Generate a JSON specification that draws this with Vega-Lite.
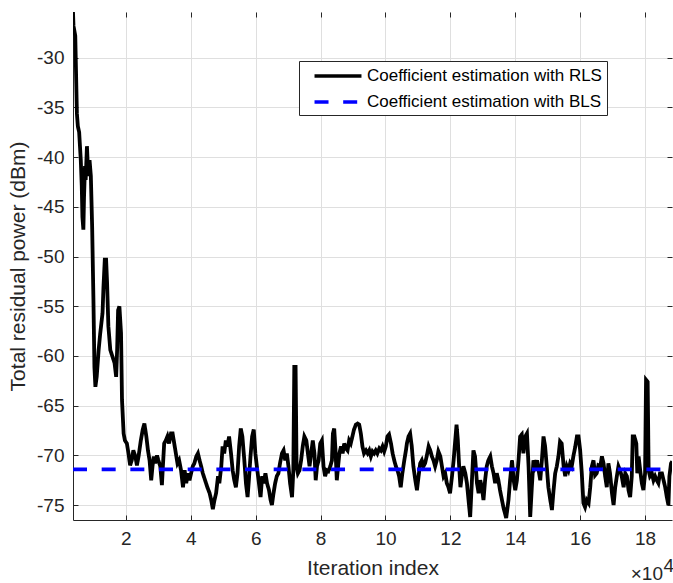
{
  "$schema": "https://vega.github.io/schema/vega-lite/v6.json",
  "width": 599,
  "height": 508,
  "autosize": {"type": "none"},
  "padding": {"left": 73, "top": 12, "right": 1, "bottom": 63},
  "background": "white",
  "config": {
    "font": "Liberation Sans",
    "view": {"stroke": null},
    "axis": {
      "labelFont": "Liberation Sans",
      "titleFont": "Liberation Sans",
      "labelFontSize": 19,
      "titleFontSize": 21,
      "titleFontWeight": "normal",
      "labelColor": "#262626",
      "titleColor": "#262626",
      "tickColor": "#262626",
      "domainColor": "#262626",
      "gridColor": "#dfdfdf",
      "gridWidth": 1,
      "tickWidth": 1,
      "domainWidth": 1
    }
  },
  "title": {
    "text": "×10",
    "orient": "bottom",
    "anchor": "end",
    "frame": "group",
    "font": "Liberation Sans",
    "fontSize": 19,
    "fontWeight": "normal",
    "color": "#262626",
    "offset": -13,
    "dx": -9
  },
  "data": {
    "values": [
      {"s":"RLS","x":0.37,"y":-25.4},{"s":"RLS","x":0.385,"y":-26.8},{"s":"RLS","x":0.44,"y":-27.8},{"s":"RLS","x":0.49,"y":-35.6},{"s":"RLS","x":0.52,"y":-36.9},{"s":"RLS","x":0.56,"y":-37.5},{"s":"RLS","x":0.61,"y":-40.3},{"s":"RLS","x":0.64,"y":-42.9},{"s":"RLS","x":0.66,"y":-46.0},{"s":"RLS","x":0.69,"y":-47.3},{"s":"RLS","x":0.71,"y":-44.0},{"s":"RLS","x":0.74,"y":-40.9},{"s":"RLS","x":0.76,"y":-42.3},{"s":"RLS","x":0.8,"y":-38.9},{"s":"RLS","x":0.84,"y":-41.9},{"s":"RLS","x":0.88,"y":-40.3},{"s":"RLS","x":0.92,"y":-41.9},{"s":"RLS","x":0.96,"y":-47.0},{"s":"RLS","x":1.0,"y":-54.4},{"s":"RLS","x":1.03,"y":-61.1},{"s":"RLS","x":1.06,"y":-63.1},{"s":"RLS","x":1.1,"y":-62.1},{"s":"RLS","x":1.16,"y":-59.4},{"s":"RLS","x":1.21,"y":-57.7},{"s":"RLS","x":1.28,"y":-55.7},{"s":"RLS","x":1.31,"y":-53.0},{"s":"RLS","x":1.35,"y":-50.3},{"s":"RLS","x":1.39,"y":-50.3},{"s":"RLS","x":1.42,"y":-52.6},{"s":"RLS","x":1.46,"y":-57.0},{"s":"RLS","x":1.52,"y":-59.4},{"s":"RLS","x":1.59,"y":-60.1},{"s":"RLS","x":1.65,"y":-60.7},{"s":"RLS","x":1.7,"y":-62.1},{"s":"RLS","x":1.73,"y":-59.4},{"s":"RLS","x":1.76,"y":-55.4},{"s":"RLS","x":1.8,"y":-55.0},{"s":"RLS","x":1.85,"y":-57.7},{"s":"RLS","x":1.88,"y":-64.4},{"s":"RLS","x":1.93,"y":-67.8},{"s":"RLS","x":1.97,"y":-68.5},
      {"s":"RLS","x":2.03,"y":-68.8},{"s":"RLS","x":2.08,"y":-69.8},{"s":"RLS","x":2.13,"y":-71.0},{"s":"RLS","x":2.18,"y":-70.5},{"s":"RLS","x":2.23,"y":-69.5},{"s":"RLS","x":2.29,"y":-70.1},{"s":"RLS","x":2.34,"y":-71.0},{"s":"RLS","x":2.39,"y":-70.1},{"s":"RLS","x":2.46,"y":-68.5},{"s":"RLS","x":2.52,"y":-67.4},{"s":"RLS","x":2.57,"y":-66.8},{"s":"RLS","x":2.63,"y":-68.1},{"s":"RLS","x":2.68,"y":-69.5},{"s":"RLS","x":2.73,"y":-70.5},{"s":"RLS","x":2.78,"y":-72.5},{"s":"RLS","x":2.82,"y":-71.1},{"s":"RLS","x":2.86,"y":-70.1},{"s":"RLS","x":2.9,"y":-70.8},{"s":"RLS","x":2.96,"y":-70.0},{"s":"RLS","x":3.0,"y":-70.5},{"s":"RLS","x":3.06,"y":-71.1},{"s":"RLS","x":3.11,"y":-73.0},{"s":"RLS","x":3.14,"y":-71.1},{"s":"RLS","x":3.18,"y":-68.8},{"s":"RLS","x":3.23,"y":-68.5},{"s":"RLS","x":3.28,"y":-68.1},{"s":"RLS","x":3.33,"y":-68.8},{"s":"RLS","x":3.39,"y":-67.8},{"s":"RLS","x":3.44,"y":-67.8},{"s":"RLS","x":3.49,"y":-68.8},{"s":"RLS","x":3.54,"y":-69.8},{"s":"RLS","x":3.59,"y":-70.8},{"s":"RLS","x":3.64,"y":-70.5},{"s":"RLS","x":3.7,"y":-71.5},{"s":"RLS","x":3.76,"y":-73.2},{"s":"RLS","x":3.81,"y":-71.5},{"s":"RLS","x":3.86,"y":-72.8},{"s":"RLS","x":3.91,"y":-71.8},{"s":"RLS","x":3.96,"y":-72.5},{"s":"RLS","x":4.01,"y":-71.8},{"s":"RLS","x":4.06,"y":-71.1},{"s":"RLS","x":4.11,"y":-70.8},{"s":"RLS","x":4.17,"y":-70.1},{"s":"RLS","x":4.22,"y":-69.8},{"s":"RLS","x":4.27,"y":-70.5},{"s":"RLS","x":4.32,"y":-71.1},{"s":"RLS","x":4.37,"y":-71.8},{"s":"RLS","x":4.44,"y":-72.5},{"s":"RLS","x":4.51,"y":-73.2},{"s":"RLS","x":4.58,"y":-73.8},{"s":"RLS","x":4.63,"y":-74.5},{"s":"RLS","x":4.68,"y":-75.4},{"s":"RLS","x":4.73,"y":-74.5},{"s":"RLS","x":4.78,"y":-73.8},{"s":"RLS","x":4.84,"y":-72.1},{"s":"RLS","x":4.88,"y":-72.8},
      {"s":"RLS","x":4.94,"y":-71.1},{"s":"RLS","x":4.98,"y":-69.1},{"s":"RLS","x":5.03,"y":-69.8},{"s":"RLS","x":5.08,"y":-68.5},{"s":"RLS","x":5.13,"y":-69.1},{"s":"RLS","x":5.18,"y":-68.1},{"s":"RLS","x":5.24,"y":-69.8},{"s":"RLS","x":5.29,"y":-71.5},{"s":"RLS","x":5.34,"y":-72.5},{"s":"RLS","x":5.39,"y":-73.2},{"s":"RLS","x":5.44,"y":-71.8},{"s":"RLS","x":5.49,"y":-69.1},{"s":"RLS","x":5.54,"y":-67.3},{"s":"RLS","x":5.59,"y":-68.1},{"s":"RLS","x":5.65,"y":-70.5},{"s":"RLS","x":5.7,"y":-72.8},{"s":"RLS","x":5.75,"y":-74.2},{"s":"RLS","x":5.79,"y":-72.5},{"s":"RLS","x":5.84,"y":-70.1},{"s":"RLS","x":5.89,"y":-68.1},{"s":"RLS","x":5.94,"y":-67.4},{"s":"RLS","x":5.99,"y":-69.8},{"s":"RLS","x":6.05,"y":-71.5},{"s":"RLS","x":6.1,"y":-72.8},{"s":"RLS","x":6.15,"y":-74.2},{"s":"RLS","x":6.2,"y":-72.1},{"s":"RLS","x":6.25,"y":-72.8},{"s":"RLS","x":6.3,"y":-71.8},{"s":"RLS","x":6.35,"y":-72.8},{"s":"RLS","x":6.41,"y":-73.5},{"s":"RLS","x":6.46,"y":-74.5},{"s":"RLS","x":6.5,"y":-75.0},{"s":"RLS","x":6.55,"y":-73.8},{"s":"RLS","x":6.6,"y":-72.8},{"s":"RLS","x":6.65,"y":-72.1},{"s":"RLS","x":6.7,"y":-71.8},{"s":"RLS","x":6.75,"y":-70.8},{"s":"RLS","x":6.81,"y":-69.8},{"s":"RLS","x":6.86,"y":-69.5},{"s":"RLS","x":6.91,"y":-70.5},{"s":"RLS","x":6.96,"y":-69.8},{"s":"RLS","x":7.01,"y":-71.1},{"s":"RLS","x":7.06,"y":-72.8},{"s":"RLS","x":7.12,"y":-74.2},{"s":"RLS","x":7.16,"y":-71.5},{"s":"RLS","x":7.19,"y":-61.1},{"s":"RLS","x":7.23,"y":-61.1},{"s":"RLS","x":7.26,"y":-71.1},{"s":"RLS","x":7.3,"y":-71.8},{"s":"RLS","x":7.35,"y":-71.5},{"s":"RLS","x":7.4,"y":-70.5},{"s":"RLS","x":7.45,"y":-69.1},{"s":"RLS","x":7.5,"y":-68.1},{"s":"RLS","x":7.56,"y":-68.5},{"s":"RLS","x":7.61,"y":-69.8},{"s":"RLS","x":7.66,"y":-71.1},{"s":"RLS","x":7.71,"y":-69.8},{"s":"RLS","x":7.76,"y":-68.5},{"s":"RLS","x":7.81,"y":-69.8},
      {"s":"RLS","x":7.85,"y":-72.5},{"s":"RLS","x":7.89,"y":-71.1},{"s":"RLS","x":7.94,"y":-70.5},{"s":"RLS","x":7.99,"y":-68.8},{"s":"RLS","x":8.04,"y":-68.5},{"s":"RLS","x":8.09,"y":-71.1},{"s":"RLS","x":8.14,"y":-72.1},{"s":"RLS","x":8.19,"y":-71.5},{"s":"RLS","x":8.24,"y":-71.6},{"s":"RLS","x":8.3,"y":-71.1},{"s":"RLS","x":8.35,"y":-70.5},{"s":"RLS","x":8.38,"y":-67.8},{"s":"RLS","x":8.42,"y":-67.3},{"s":"RLS","x":8.46,"y":-69.5},{"s":"RLS","x":8.5,"y":-72.5},{"s":"RLS","x":8.54,"y":-71.1},{"s":"RLS","x":8.58,"y":-69.8},{"s":"RLS","x":8.63,"y":-69.1},{"s":"RLS","x":8.68,"y":-69.8},{"s":"RLS","x":8.73,"y":-68.8},{"s":"RLS","x":8.78,"y":-69.3},{"s":"RLS","x":8.83,"y":-69.5},{"s":"RLS","x":8.88,"y":-68.5},{"s":"RLS","x":8.93,"y":-68.8},{"s":"RLS","x":8.98,"y":-68.1},{"s":"RLS","x":9.03,"y":-67.4},{"s":"RLS","x":9.09,"y":-66.9},{"s":"RLS","x":9.14,"y":-66.8},{"s":"RLS","x":9.19,"y":-66.9},{"s":"RLS","x":9.24,"y":-67.8},{"s":"RLS","x":9.29,"y":-69.1},{"s":"RLS","x":9.34,"y":-69.8},{"s":"RLS","x":9.4,"y":-69.5},{"s":"RLS","x":9.45,"y":-69.8},{"s":"RLS","x":9.5,"y":-69.5},{"s":"RLS","x":9.55,"y":-70.1},{"s":"RLS","x":9.6,"y":-69.6},{"s":"RLS","x":9.65,"y":-69.8},{"s":"RLS","x":9.7,"y":-69.5},{"s":"RLS","x":9.75,"y":-69.8},{"s":"RLS","x":9.81,"y":-69.3},{"s":"RLS","x":9.86,"y":-69.5},{"s":"RLS","x":9.91,"y":-69.1},{"s":"RLS","x":9.96,"y":-69.6},{"s":"RLS","x":10.01,"y":-69.1},{"s":"RLS","x":10.06,"y":-68.1},{"s":"RLS","x":10.11,"y":-67.9},{"s":"RLS","x":10.17,"y":-68.8},{"s":"RLS","x":10.22,"y":-69.8},{"s":"RLS","x":10.27,"y":-70.5},{"s":"RLS","x":10.32,"y":-71.1},{"s":"RLS","x":10.37,"y":-71.5},{"s":"RLS","x":10.42,"y":-72.1},{"s":"RLS","x":10.47,"y":-73.2},{"s":"RLS","x":10.52,"y":-71.8},{"s":"RLS","x":10.58,"y":-70.5},
      {"s":"RLS","x":10.63,"y":-69.5},{"s":"RLS","x":10.66,"y":-68.8},{"s":"RLS","x":10.71,"y":-68.1},{"s":"RLS","x":10.76,"y":-67.8},{"s":"RLS","x":10.81,"y":-69.1},{"s":"RLS","x":10.86,"y":-71.1},{"s":"RLS","x":10.92,"y":-72.5},{"s":"RLS","x":10.97,"y":-73.5},{"s":"RLS","x":11.02,"y":-72.1},{"s":"RLS","x":11.07,"y":-70.8},{"s":"RLS","x":11.12,"y":-70.5},{"s":"RLS","x":11.17,"y":-71.1},{"s":"RLS","x":11.22,"y":-70.8},{"s":"RLS","x":11.27,"y":-70.1},{"s":"RLS","x":11.33,"y":-69.1},{"s":"RLS","x":11.38,"y":-69.5},{"s":"RLS","x":11.43,"y":-70.1},{"s":"RLS","x":11.48,"y":-70.5},{"s":"RLS","x":11.53,"y":-71.1},{"s":"RLS","x":11.58,"y":-70.5},{"s":"RLS","x":11.63,"y":-69.6},{"s":"RLS","x":11.69,"y":-70.1},{"s":"RLS","x":11.74,"y":-71.1},{"s":"RLS","x":11.79,"y":-72.1},{"s":"RLS","x":11.84,"y":-71.8},{"s":"RLS","x":11.89,"y":-72.8},{"s":"RLS","x":11.94,"y":-73.2},{"s":"RLS","x":11.99,"y":-73.8},{"s":"RLS","x":12.05,"y":-72.1},{"s":"RLS","x":12.1,"y":-70.5},{"s":"RLS","x":12.15,"y":-68.5},{"s":"RLS","x":12.19,"y":-66.9},{"s":"RLS","x":12.23,"y":-68.5},{"s":"RLS","x":12.27,"y":-71.1},{"s":"RLS","x":12.31,"y":-73.2},{"s":"RLS","x":12.35,"y":-72.1},{"s":"RLS","x":12.4,"y":-71.1},{"s":"RLS","x":12.46,"y":-71.8},{"s":"RLS","x":12.51,"y":-72.8},{"s":"RLS","x":12.56,"y":-74.5},{"s":"RLS","x":12.61,"y":-76.2},{"s":"RLS","x":12.66,"y":-72.8},{"s":"RLS","x":12.71,"y":-69.5},{"s":"RLS","x":12.76,"y":-70.1},{"s":"RLS","x":12.82,"y":-72.8},{"s":"RLS","x":12.87,"y":-73.8},{"s":"RLS","x":12.92,"y":-72.5},{"s":"RLS","x":12.97,"y":-73.2},{"s":"RLS","x":13.02,"y":-74.5},{"s":"RLS","x":13.07,"y":-72.5},{"s":"RLS","x":13.12,"y":-71.1},{"s":"RLS","x":13.17,"y":-70.5},{"s":"RLS","x":13.23,"y":-70.1},{"s":"RLS","x":13.28,"y":-71.1},{"s":"RLS","x":13.33,"y":-71.8},{"s":"RLS","x":13.38,"y":-72.8},{"s":"RLS","x":13.43,"y":-71.8},{"s":"RLS","x":13.48,"y":-72.5},{"s":"RLS","x":13.53,"y":-73.5},{"s":"RLS","x":13.59,"y":-74.5},{"s":"RLS","x":13.64,"y":-75.3},{"s":"RLS","x":13.72,"y":-76.3},
      {"s":"RLS","x":13.79,"y":-74.5},{"s":"RLS","x":13.84,"y":-72.5},{"s":"RLS","x":13.9,"y":-70.5},{"s":"RLS","x":13.95,"y":-72.5},{"s":"RLS","x":14.0,"y":-73.5},{"s":"RLS","x":14.05,"y":-72.5},{"s":"RLS","x":14.1,"y":-70.5},{"s":"RLS","x":14.15,"y":-68.1},{"s":"RLS","x":14.2,"y":-67.9},{"s":"RLS","x":14.25,"y":-69.8},{"s":"RLS","x":14.31,"y":-68.1},{"s":"RLS","x":14.36,"y":-67.8},{"s":"RLS","x":14.41,"y":-71.1},{"s":"RLS","x":14.46,"y":-76.2},{"s":"RLS","x":14.51,"y":-73.2},{"s":"RLS","x":14.56,"y":-70.5},{"s":"RLS","x":14.61,"y":-71.1},{"s":"RLS","x":14.67,"y":-70.5},{"s":"RLS","x":14.72,"y":-71.5},{"s":"RLS","x":14.77,"y":-72.5},{"s":"RLS","x":14.82,"y":-70.5},{"s":"RLS","x":14.87,"y":-68.1},{"s":"RLS","x":14.92,"y":-69.1},{"s":"RLS","x":14.97,"y":-71.1},{"s":"RLS","x":15.02,"y":-73.2},{"s":"RLS","x":15.08,"y":-74.5},{"s":"RLS","x":15.13,"y":-75.5},{"s":"RLS","x":15.18,"y":-73.5},{"s":"RLS","x":15.23,"y":-71.8},{"s":"RLS","x":15.28,"y":-71.1},{"s":"RLS","x":15.33,"y":-70.1},{"s":"RLS","x":15.38,"y":-68.6},{"s":"RLS","x":15.43,"y":-68.8},{"s":"RLS","x":15.49,"y":-71.1},{"s":"RLS","x":15.54,"y":-72.1},{"s":"RLS","x":15.59,"y":-71.1},{"s":"RLS","x":15.64,"y":-71.5},{"s":"RLS","x":15.69,"y":-70.8},{"s":"RLS","x":15.74,"y":-71.1},{"s":"RLS","x":15.79,"y":-70.1},{"s":"RLS","x":15.85,"y":-69.1},{"s":"RLS","x":15.9,"y":-68.1},{"s":"RLS","x":15.95,"y":-68.1},{"s":"RLS","x":16.0,"y":-69.5},{"s":"RLS","x":16.05,"y":-71.8},{"s":"RLS","x":16.1,"y":-74.8},{"s":"RLS","x":16.15,"y":-75.2},{"s":"RLS","x":16.2,"y":-74.5},{"s":"RLS","x":16.26,"y":-74.8},{"s":"RLS","x":16.31,"y":-73.2},{"s":"RLS","x":16.36,"y":-71.1},{"s":"RLS","x":16.41,"y":-70.5},{"s":"RLS","x":16.46,"y":-72.0},{"s":"RLS","x":16.51,"y":-71.8},{"s":"RLS","x":16.56,"y":-71.0},
      {"s":"RLS","x":16.62,"y":-71.1},{"s":"RLS","x":16.67,"y":-70.1},{"s":"RLS","x":16.72,"y":-70.8},{"s":"RLS","x":16.77,"y":-72.1},{"s":"RLS","x":16.82,"y":-73.2},{"s":"RLS","x":16.87,"y":-70.8},{"s":"RLS","x":16.92,"y":-71.8},{"s":"RLS","x":16.98,"y":-73.8},{"s":"RLS","x":17.03,"y":-75.0},{"s":"RLS","x":17.08,"y":-73.2},{"s":"RLS","x":17.13,"y":-72.1},{"s":"RLS","x":17.18,"y":-71.1},{"s":"RLS","x":17.23,"y":-71.5},{"s":"RLS","x":17.28,"y":-72.1},{"s":"RLS","x":17.34,"y":-73.2},{"s":"RLS","x":17.39,"y":-71.8},{"s":"RLS","x":17.44,"y":-72.1},{"s":"RLS","x":17.49,"y":-73.5},{"s":"RLS","x":17.54,"y":-74.2},{"s":"RLS","x":17.59,"y":-72.1},{"s":"RLS","x":17.62,"y":-68.1},{"s":"RLS","x":17.67,"y":-68.1},{"s":"RLS","x":17.73,"y":-68.8},{"s":"RLS","x":17.76,"y":-71.8},{"s":"RLS","x":17.8,"y":-70.1},{"s":"RLS","x":17.85,"y":-71.5},{"s":"RLS","x":17.9,"y":-72.8},{"s":"RLS","x":17.95,"y":-73.5},{"s":"RLS","x":18.0,"y":-71.8},{"s":"RLS","x":18.03,"y":-62.4},{"s":"RLS","x":18.08,"y":-62.6},{"s":"RLS","x":18.11,"y":-71.5},{"s":"RLS","x":18.15,"y":-72.1},{"s":"RLS","x":18.21,"y":-71.8},{"s":"RLS","x":18.26,"y":-72.5},{"s":"RLS","x":18.31,"y":-72.1},{"s":"RLS","x":18.36,"y":-72.5},{"s":"RLS","x":18.41,"y":-72.8},{"s":"RLS","x":18.46,"y":-71.8},{"s":"RLS","x":18.52,"y":-71.8},{"s":"RLS","x":18.57,"y":-72.5},{"s":"RLS","x":18.62,"y":-73.2},{"s":"RLS","x":18.67,"y":-74.2},{"s":"RLS","x":18.72,"y":-75.0},{"s":"RLS","x":18.75,"y":-72.1},{"s":"RLS","x":18.8,"y":-70.8},{"s":"RLS","x":18.84,"y":-70.6},
      {"s":"BLS","x":0.37,"y":-71.4},{"s":"BLS","x":18.83,"y":-71.4}
    ]
  },
  "resolve": {"axis": {"x": "independent", "y": "independent"}},
  "layer": [
    {
      "mark": {"type": "line", "strokeWidth": 3.8, "clip": true},
      "encoding": {
        "x": {
          "field": "x", "type": "quantitative",
          "scale": {"domain": [0.37, 18.83], "nice": false, "zero": false},
          "axis": {
            "orient": "bottom", "values": [2, 4, 6, 8, 10, 12, 14, 16, 18],
            "title": "Iteration index", "grid": true, "tickSize": -5,
            "labelPadding": 14, "titlePadding": 9, "labelFlush": false, "labelOverlap": false
          }
        },
        "y": {
          "field": "y", "type": "quantitative",
          "scale": {"domain": [-76.5, -25.4], "nice": false, "zero": false},
          "axis": {
            "orient": "left", "values": [-75, -70, -65, -60, -55, -50, -45, -40, -35, -30],
            "title": "Total residual power (dBm)", "grid": true, "tickSize": -5,
            "labelPadding": 14, "titlePadding": 8, "labelExpr": "'' + datum.value", "labelOverlap": false
          }
        },
        "color": {
          "field": "s", "type": "nominal",
          "scale": {"domain": ["RLS", "BLS"], "range": ["#000000", "#0000ff"]},
          "legend": {
            "orient": "none", "legendX": 226, "legendY": 49, "title": null,
            "labelExpr": "'Coefficient estimation with ' + datum.label",
            "labelFont": "Liberation Sans", "labelFontSize": 17, "labelColor": "#000000", "labelLimit": 400,
            "symbolType": "M-3,0H3", "symbolSize": 245, "symbolStrokeWidth": 3.5,
            "strokeColor": "#262626", "fillColor": "white", "padding": 5,
            "rowPadding": 8, "labelOffset": 19, "symbolOffset": 24
          }
        },
        "strokeDash": {
          "field": "s", "type": "nominal",
          "scale": {"domain": ["RLS", "BLS"], "range": [[1, 0], [14, 14.67]]},
          "legend": {
            "orient": "none", "legendX": 226, "legendY": 49, "title": null,
            "labelExpr": "'Coefficient estimation with ' + datum.label",
            "labelFont": "Liberation Sans", "labelFontSize": 17, "labelColor": "#000000", "labelLimit": 400,
            "symbolType": "M-3,0H3", "symbolSize": 245, "symbolStrokeWidth": 3.5,
            "strokeColor": "#262626", "fillColor": "white", "padding": 5,
            "rowPadding": 8, "labelOffset": 19, "symbolOffset": 24
          }
        }
      }
    },
    {
      "mark": {"type": "line", "opacity": 0},
      "encoding": {
        "x": {
          "field": "x", "type": "quantitative",
          "axis": {"orient": "top", "values": [2, 4, 6, 8, 10, 12, 14, 16, 18], "labels": false, "domain": false, "grid": false, "tickSize": -5, "title": null}
        },
        "y": {
          "field": "y", "type": "quantitative",
          "axis": {
            "orient": "right", "values": [-75, -70, -65, -60, -55, -50, -45, -40, -35, -30],
            "labels": false, "domain": false, "grid": false, "tickSize": -5,
            "title": "4", "titleAngle": 0, "titleAlign": "left", "titleBaseline": "top",
            "titleX": -9, "titleY": 544, "titleFontSize": 19
          }
        }
      }
    }
  ]
}
